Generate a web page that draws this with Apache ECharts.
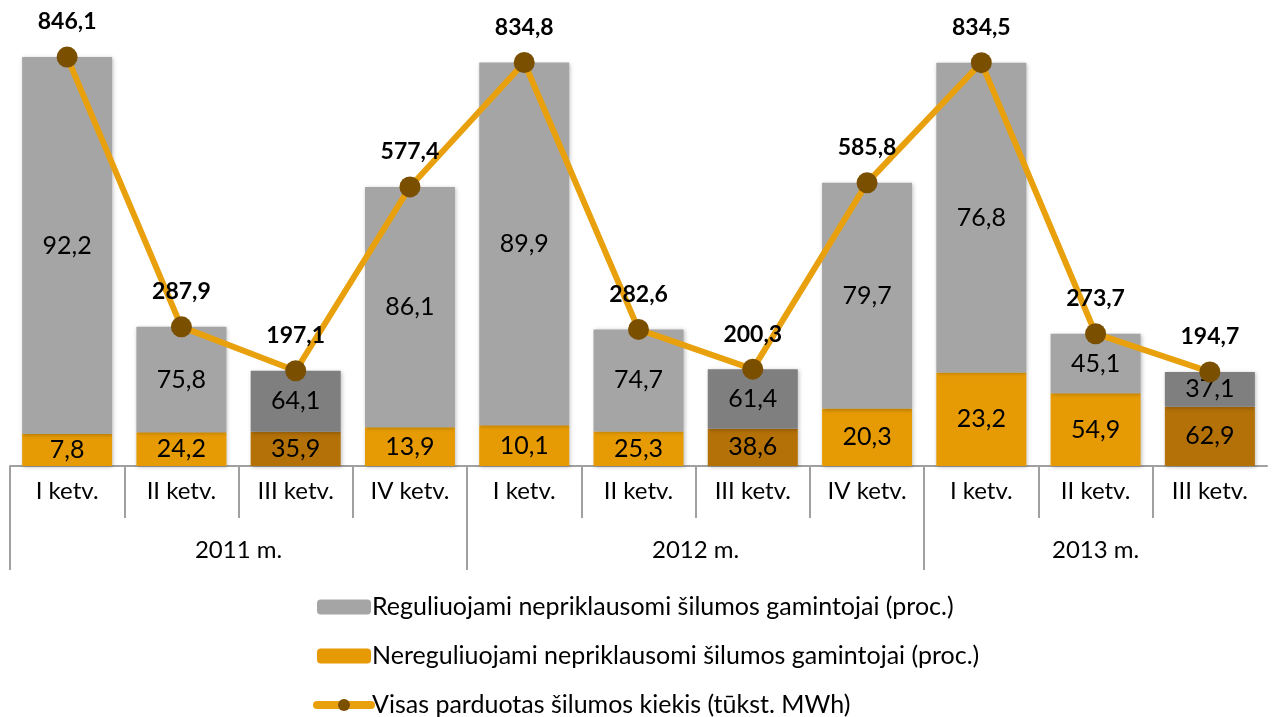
<!DOCTYPE html>
<html>
<head>
<meta charset="utf-8">
<script src="https://cdn.jsdelivr.net/npm/echarts@6/dist/echarts.min.js"></script>
<style>
  html, body { margin: 0; padding: 0; background: #fff; }
  #chart { width: 1272px; height: 717px; }
</style>
</head>
<body>
<div id="chart"></div>
<script>
// duomenys
const quarters = ['I ketv.', 'II ketv.', 'III ketv.', 'IV ketv.', 'I ketv.', 'II ketv.', 'III ketv.', 'IV ketv.', 'I ketv.', 'II ketv.', 'III ketv.'];
const years = ['2011 m.', '2012 m.', '2013 m.'];
const regulatedPct = [92.2, 75.8, 64.1, 86.1, 89.9, 74.7, 61.4, 79.7, 76.8, 45.1, 37.1];
const unregulatedPct = [7.8, 24.2, 35.9, 13.9, 10.1, 25.3, 38.6, 20.3, 23.2, 54.9, 62.9];
const totalSold = [846.1, 287.9, 197.1, 577.4, 834.8, 282.6, 200.3, 585.8, 834.5, 273.7, 194.7];

const names = [
  'Reguliuojami nepriklausomi šilumos gamintojai (proc.)',
  'Nereguliuojami nepriklausomi šilumos gamintojai (proc.)',
  'Visas parduotas šilumos kiekis (tūkst. MWh)'
];

const font = 'Lato, "Open Sans", sans-serif';
const fmt = v => String(v.toFixed(1)).replace('.', ',');
const darkIdx = [2, 6, 10];

// stulpelio dalis = procentas nuo viso kiekio
const segment = (pct, dark, light) => pct.map((p, i) => ({
  value: p * totalSold[i] / 100,
  itemStyle: { color: darkIdx.includes(i) ? dark : light }
}));

const barStyle = {
  shadowBlur: 4,
  shadowColor: 'rgba(0,0,0,0.25)',
  shadowOffsetX: 1,
  shadowOffsetY: 1
};

const chart = echarts.init(document.getElementById('chart'));
chart.setOption({
  animation: false,
  textStyle: { fontFamily: font },
  grid: { left: 10, right: 5, top: 31, bottom: 251, outerBoundsMode: 'none' },
  legend: {
    orient: 'vertical',
    left: 313,
    top: 594,
    height: 200,
    padding: 0,
    itemWidth: 54,
    itemHeight: 15,
    itemGap: 23,
    data: [
      names[0],
      names[1],
      { name: names[2], lineStyle: { width: 8, cap: 'round' } }
    ],
    textStyle: { fontSize: 25, color: '#000', fontFamily: font, lineHeight: 26, padding: [0, 0, 0, -4] }
  },
  xAxis: [
    {
      type: 'category',
      position: 'bottom',
      data: quarters,
      axisLine: { lineStyle: { color: '#a0a0a0', width: 2 } },
      axisTick: { show: false },
      axisLabel: { fontSize: 24, color: '#000', margin: 13, interval: 0 }
    },
    {
      type: 'value',
      position: 'bottom',
      min: 0,
      max: 11,
      axisLine: { show: false },
      splitLine: { show: false },
      axisTick: { show: true, length: 52, customValues: [1, 2, 3, 4, 5, 6, 7, 8, 9, 10], lineStyle: { color: '#a0a0a0', width: 2 } },
      axisLabel: { show: false }
    },
    {
      type: 'value',
      position: 'bottom',
      min: 0,
      max: 11,
      axisLine: { show: false },
      splitLine: { show: false },
      axisTick: { show: true, length: 104, customValues: [0, 4, 8], lineStyle: { color: '#a0a0a0', width: 2 } },
      axisLabel: {
        show: true,
        customValues: [2, 6, 9.5],
        margin: 72,
        fontSize: 24,
        color: '#000',
        formatter: v => v === 2 ? years[0] : v === 6 ? years[1] : years[2]
      }
    }
  ],
  yAxis: {
    type: 'value',
    min: 0,
    max: 900,
    show: false
  },
  series: [
    {
      name: names[1],
      type: 'bar',
      stack: 'dalis',
      barWidth: 90,
      color: '#e69b05',
      data: segment(unregulatedPct, '#b47108', '#e69b05'),
      itemStyle: barStyle,
      label: {
        show: true,
        position: 'inside',
        fontSize: 25,
        color: '#000',
        formatter: p => fmt(unregulatedPct[p.dataIndex])
      }
    },
    {
      name: names[0],
      type: 'bar',
      stack: 'dalis',
      barWidth: 90,
      color: '#a5a5a5',
      data: segment(regulatedPct, '#7f7f7f', '#a5a5a5'),
      itemStyle: barStyle,
      label: {
        show: true,
        position: 'inside',
        fontSize: 25,
        color: '#000',
        formatter: p => fmt(regulatedPct[p.dataIndex])
      }
    },
    {
      name: names[2],
      type: 'line',
      data: totalSold,
      z: 5,
      symbol: 'circle',
      symbolSize: 21,
      color: '#7a5000',
      itemStyle: { color: '#7a5000' },
      lineStyle: { color: '#e8a00c', width: 6 },
      label: {
        show: true,
        position: 'top',
        distance: 13,
        fontSize: 23,
        fontWeight: 'bold',
        color: '#000',
        formatter: p => fmt(p.value)
      }
    }
  ]
});
</script>
</body>
</html>
